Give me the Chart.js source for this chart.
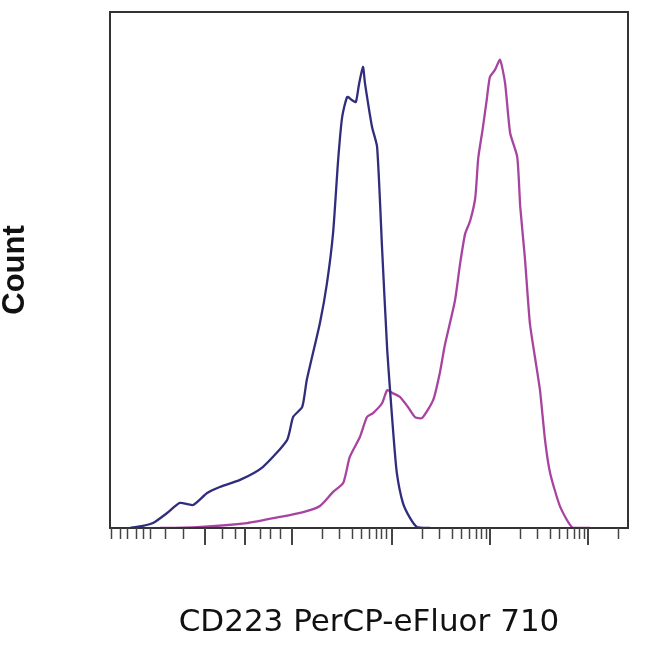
<!DOCTYPE html>
<html>
<head>
<meta charset="utf-8">
<script src="https://cdn.jsdelivr.net/npm/chart.js@4.4.1/dist/chart.umd.min.js"></script>
<style>
  html, body { margin: 0; padding: 0; background: #fff; }
  #wrap { width: 650px; height: 646px; }
</style>
</head>
<body>
<div id="wrap"><canvas id="myChart"></canvas></div>
<script>
// Histogram data (channel 0-1024, count)
const isoChannels = [40, 65, 85, 113, 138, 164, 192, 217, 257, 302, 350, 362, 380, 389, 415, 429, 441, 451, 459, 469, 478, 486, 492, 500, 504, 518, 528, 538, 548, 554, 560, 567, 579, 593, 607, 633];
const isoCounts   = [0, 0.9, 2.1, 6.4, 10.7, 9.8, 14.9, 17.5, 20.5, 26.0, 37.5, 47.3, 51.6, 63.1, 87.4, 104.5, 125.8, 156.9, 175.3, 183.8, 182.5, 181.6, 188.9, 196.6, 189.7, 171.0, 162.5, 118.5, 75.9, 57.6, 40.5, 23.5, 10.7, 4.3, 0.4, 0];

const cdChannels = [99, 172, 271, 336, 382, 415, 441, 461, 474, 494, 508, 520, 538, 548, 558, 573, 589, 603, 617, 639, 652, 662, 682, 692, 702, 712, 722, 728, 737, 745, 751, 761, 771, 781, 791, 805, 811, 820, 830, 840, 850, 860, 870, 890, 915, 949];
const cdCounts   = [0, 0.4, 2.1, 4.7, 6.8, 9.4, 15.4, 19.2, 30.3, 38.8, 47.3, 49.0, 53.3, 58.8, 57.6, 55.9, 51.6, 47.3, 46.9, 54.6, 66.1, 78.0, 97.0, 112.6, 125.4, 131.0, 140.7, 157.8, 170.5, 183.0, 192.3, 195.3, 199.6, 189.7, 168.4, 158.2, 136.9, 115.6, 87.4, 72.9, 58.8, 37.5, 23.5, 9.0, 0, 0];

// tick marks on the biexponential axis
const majorTicks = [188, 267, 360, 557, 751, 945];
const minorTicks = [2, 20, 34, 51, 65, 79, 109, 144, 221, 247, 297, 316, 336,
  419, 453, 478, 496, 512, 526, 536, 546,
  617, 650, 676, 694, 710, 724, 733, 743,
  810, 844, 870, 888, 903, 917, 927, 937,
  1004];

function toPoints(xs, ys) {
    return xs.map((x, i) => ({ x: x, y: ys[i] }));
}

const frameAndTicks = {
    id: 'frameAndTicks',
    afterDraw(chart) {
        const c = chart.ctx;
        const a = chart.chartArea;
        const sx = chart.scales.x;
        c.save();
        c.strokeStyle = '#333';
        c.lineWidth = 2;
        c.strokeRect(a.left, a.top, a.right - a.left, a.bottom - a.top);
        c.strokeStyle = '#444';
        c.lineWidth = 1.5;
        minorTicks.forEach(v => {
            const x = Math.round(sx.getPixelForValue(v)) + 0.5;
            c.beginPath(); c.moveTo(x, a.bottom); c.lineTo(x, a.bottom + 11); c.stroke();
        });
        c.lineWidth = 2;
        majorTicks.forEach(v => {
            const x = Math.round(sx.getPixelForValue(v));
            c.beginPath(); c.moveTo(x, a.bottom); c.lineTo(x, a.bottom + 17); c.stroke();
        });
        c.restore();
    }
};

const ctx = document.getElementById('myChart');

new Chart(ctx, {
    type: 'line',
    data: {
        datasets: [{
            label: 'Isotype',
            data: toPoints(isoChannels, isoCounts),
            borderColor: '#302e7c',
            borderWidth: 2.3,
            pointRadius: 0,
            tension: 0.2,
            fill: false
        }, {
            label: 'CD223',
            data: toPoints(cdChannels, cdCounts),
            borderColor: '#a8449f',
            borderWidth: 2.3,
            pointRadius: 0,
            tension: 0.2,
            fill: false
        }]
    },
    options: {
        responsive: true,
        maintainAspectRatio: false,
        animation: false,
        layout: { padding: { top: 12, right: 22, left: 0, bottom: 0 } },
        plugins: {
            legend: { display: false },
            tooltip: { enabled: false }
        },
        scales: {
            x: {
                type: 'linear',
                min: 0,
                max: 1024,
                ticks: { display: false },
                grid: { display: false },
                border: { display: false },
                title: {
                    display: true,
                    text: 'CD223 PerCP-eFluor 710',
                    color: '#111',
                    font: { family: 'DejaVu Sans', size: 31 },
                    padding: { top: 12, bottom: 4 }
                },
                afterFit: (scale) => { scale.height = 118; }
            },
            y: {
                min: 0,
                max: 220,
                ticks: { display: false },
                grid: { display: false },
                border: { display: false },
                title: {
                    display: true,
                    text: 'Count',
                    color: '#111',
                    font: { family: 'Liberation Sans', size: 31, weight: 'bold', lineHeight: 1 },
                    padding: 0
                },
                afterFit: (scale) => { scale.width = 110; }
            }
        }
    },
    plugins: [frameAndTicks]
});
</script>
</body>
</html>
